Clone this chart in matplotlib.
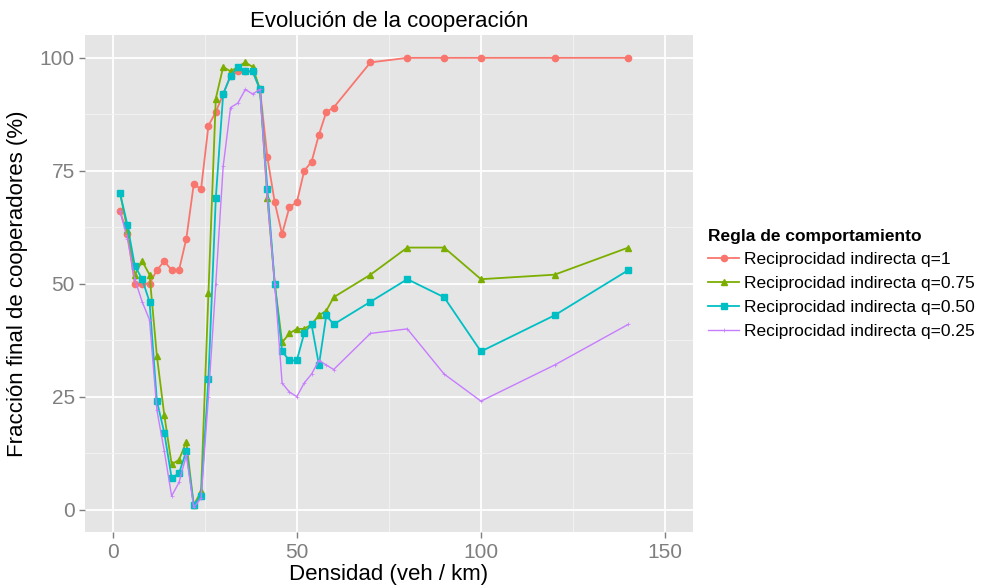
import matplotlib
matplotlib.use("Agg")
import matplotlib.pyplot as plt
import numpy as np

plt.rcParams['font.family'] = ['Liberation Sans', 'DejaVu Sans']

# densidad (veh/km)
densidad = list(range(2, 61, 2)) + [70, 80, 90, 100, 120, 140]

# fraccion final de cooperadores (%) para cada regla
q100 = [66, 61, 50, 50, 50, 53, 55, 53, 53, 60, 72, 71, 85, 88, 92, 96, 97, 97, 97, 93,
        78, 68, 61, 67, 68, 75, 77, 83, 88, 89, 99, 100, 100, 100, 100, 100]
q075 = [70, 62, 52, 55, 52, 34, 21, 10, 11, 15, 1, 4, 48, 91, 98, 97, 98, 99, 98, 93,
        69, 50, 37, 39, 40, 40, 41, 43, 44, 47, 52, 58, 58, 51, 52, 58]
q050 = [70, 63, 54, 51, 46, 24, 17, 7, 8, 13, 1, 3, 29, 69, 92, 96, 98, 97, 97, 93,
        71, 50, 35, 33, 33, 39, 41, 32, 43, 41, 46, 51, 47, 35, 43, 53]
q025 = [66, 60, 51, 46, 42, 22, 13, 3, 6, 12, 0.5, 2.5, 25, 50, 76, 89, 90, 93, 92, 93,
        69, 50, 28, 26, 25, 28, 30, 33, 32, 31, 39, 40, 30, 24, 32, 41]

etiquetas = ["Reciprocidad indirecta q=1", "Reciprocidad indirecta q=0.75",
             "Reciprocidad indirecta q=0.50", "Reciprocidad indirecta q=0.25"]
colores = ["#F8766D", "#7CAE00", "#00BFC4", "#C77CFF"]
marcadores = ["o", "^", "s", "+"]
tamanos = [4.5, 5, 4.2, 2.5]

fig = plt.figure(figsize=(10.01, 5.88), dpi=100)
ax = fig.add_axes([0.085, 0.095, 0.607, 0.845])
ax.set_facecolor("#E5E5E5")

series = [q100, q075, q050, q025]
for s, lab, c, m, t in zip(series, etiquetas, colores, marcadores, tamanos):
    if m == "+":
        ax.plot(densidad, s, color=c, lw=1.0, marker=m, ms=t, mew=0.5, label=lab)
    else:
        ax.plot(densidad, s, color=c, lw=1.3, marker=m, ms=t, label=lab)

ax.set_xlim(-7.5, 157.5)
ax.set_ylim(-5, 105)
ax.set_xticks([0, 50, 100, 150])
ax.set_yticks([0, 25, 50, 75, 100])
ax.set_xticks([25, 75, 125], minor=True)
ax.set_yticks([12.5, 37.5, 62.5, 87.5], minor=True)
ax.grid(which="major", color="white", lw=1.3)
ax.grid(which="minor", color="#F2F2F2", lw=0.7)
ax.set_axisbelow(True)
for sp in ax.spines.values():
    sp.set_visible(False)
ax.tick_params(which="major", colors="#7F7F7F", labelsize=15, length=4, width=1)
ax.tick_params(which="minor", length=0)

ax.set_title("Evolución de la cooperación", fontsize=16, pad=6)
ax.set_xlabel("Densidad (veh / km)", fontsize=16, labelpad=2)
ax.set_ylabel("Fracción final de cooperadores (%)", fontsize=16, labelpad=8)

leg = ax.legend(loc="center left", bbox_to_anchor=(1.005, 0.5), frameon=False,
                title="Regla de comportamiento", fontsize=12.5,
                handlelength=1.8, handletextpad=0.3, labelspacing=0.5,
                borderaxespad=0.3)
leg.get_title().set_fontweight("bold")
leg.get_title().set_fontsize(12.5)
leg._legend_box.align = "left"

fig.savefig("out.png", dpi=100)
